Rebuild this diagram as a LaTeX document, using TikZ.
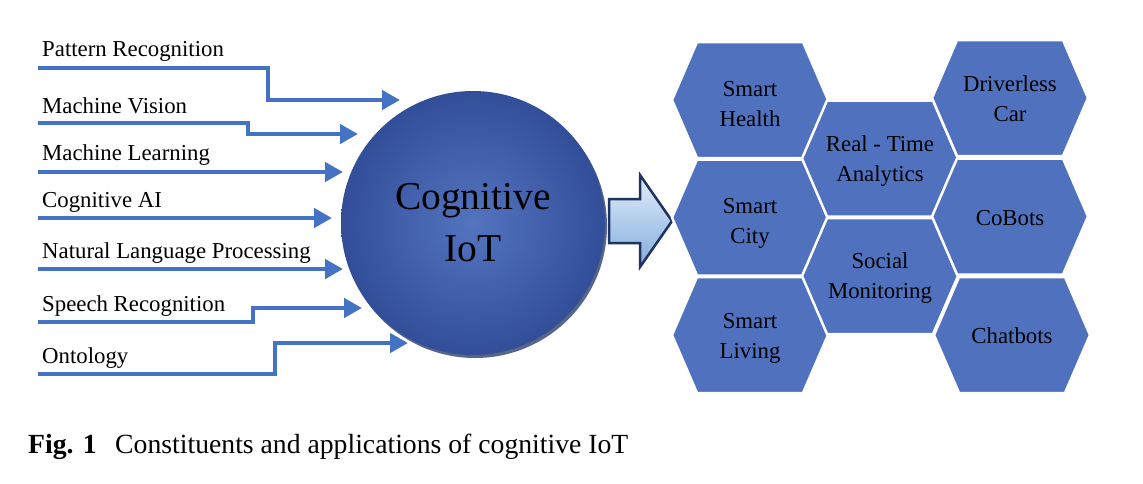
\documentclass[tikz,border=0pt]{standalone}
\usepackage{fontspec}
\setmainfont{Liberation Serif}
\usetikzlibrary{arrows.meta,shadings}
\definecolor{arrowblue}{RGB}{68,114,196}
\definecolor{hexblue}{RGB}{80,114,190}
\definecolor{navyline}{RGB}{31,50,96}
\definecolor{cogin}{RGB}{84,116,192}
\definecolor{cogout}{RGB}{50,78,152}
\definecolor{bigtop}{RGB}{226,238,250}
\definecolor{bigbot}{RGB}{130,172,222}
\newcommand\myhex[5]{%
  \draw[hexshape] (#1,#2) ++(-78,0) -- ++(25,-58) -- ++(106,0) -- ++(25,58) -- ++(-25,58) -- ++(-106,0) -- cycle;
  \node[hextext] (#3) at (#1,#2+#5) {#4};}
\begin{document}
\begin{tikzpicture}[x=1pt,y=-1pt,
  lab/.style={anchor=base west, inner sep=0pt, font=\fontsize{22.8}{27}\selectfont},
  feed/.style={draw=arrowblue, line width=4.5pt, line join=miter, -{Triangle[length=18pt,width=19pt]}},
  hexshape/.style={fill=hexblue, draw=white, line width=2.5pt, line join=miter},
  hextext/.style={align=center, inner sep=0pt, font=\fontsize{22.8}{30}\selectfont},
  captext/.style={anchor=base west, inner sep=0pt, font=\fontsize{27.7}{32}\selectfont}]
\useasboundingbox (0,0) rectangle (1143,483);

% labels
\node[lab] (l1) at (42,56) {Pattern Recognition};
\node[lab] (l2) at (42,113) {Machine Vision};
\node[lab] (l3) at (42,160) {Machine Learning};
\node[lab] (l4) at (42,207) {Cognitive AI};
\node[lab] (l5) at (42,258) {Natural Language Processing};
\node[lab] (l6) at (42,311) {Speech Recognition};
\node[lab] (l7) at (42,363) {Ontology};

% connector ends
\coordinate (s1) at (38,68);  \coordinate (e1) at (400,100);
\coordinate (s2) at (38,123); \coordinate (e2) at (358,134);
\coordinate (s3) at (38,172); \coordinate (e3) at (343,172);
\coordinate (s4) at (38,218); \coordinate (e4) at (332,218);
\coordinate (s5) at (38,269); \coordinate (e5) at (343,269);
\coordinate (s6) at (38,322); \coordinate (e6) at (362,308);
\coordinate (s7) at (38,374); \coordinate (e7) at (408,343);

\draw[feed] (s1) -- (268,68) |- (e1);
\draw[feed] (s2) -- (248,123) |- (e2);
\draw[feed] (s3) -- (e3);
\draw[feed] (s4) -- (e4);
\draw[feed] (s5) -- (e5);
\draw[feed] (s6) -- (253,322) |- (e6);
\draw[feed] (s7) -- (275,374) |- (e7);

% central circle
\fill[navyline, opacity=0.75] (475,226) circle[radius=132pt];
\node[circle, minimum size=264pt, inner sep=0pt, shading=radial, inner color=cogin, outer color=cogout,
      align=center, font=\fontsize{39.5}{52}\selectfont] (cog) at (473,223) {Cognitive\\IoT};

% big arrow
\draw[navyline, line width=2.5pt, line join=miter, top color=bigtop, bottom color=bigbot]
  (609,199) -- (640,199) -- (640,175) -- (672,221) -- (640,267) -- (640,243) -- (609,243) -- cycle;

% hexagons
\myhex{750}{100}{h1}{Smart\\Health}{4}
\myhex{750}{217.5}{h2}{Smart\\City}{6}
\myhex{750}{335}{h3}{Smart\\Living}{3}
\myhex{880}{158.5}{h4}{Real - Time\\Analytics}{3}
\myhex{880}{276}{h5}{Social\\Monitoring}{2}
\myhex{1010}{98}{h6}{Driverless\\Car}{1}
\myhex{1010}{216.5}{h7}{CoBots}{2}
\myhex{1012}{335}{h8}{Chatbots}{1}

% caption
\node[captext, font=\fontsize{27.7}{32}\selectfont\bfseries] (fig) at (28,453) {Fig. 1};
\node[captext] (cap) at (115,453) {Constituents and applications of cognitive IoT};
\end{tikzpicture}
\end{document}
